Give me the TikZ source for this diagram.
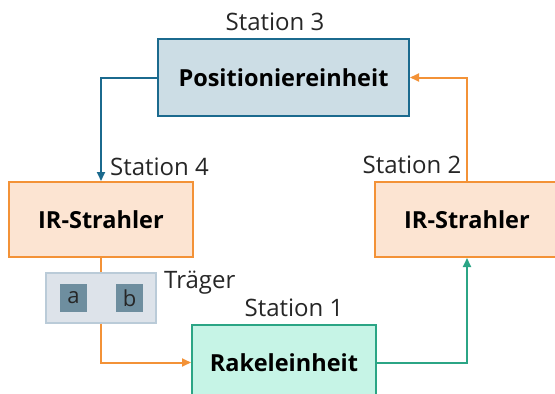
\documentclass[tikz,border=0pt]{standalone}
\usepackage{fontspec}
\setmainfont{Open Sans}
\usetikzlibrary{arrows.meta}
\definecolor{bluel}{HTML}{1B6A8E}
\definecolor{orl}{HTML}{F39237}
\definecolor{grl}{HTML}{2BA585}
\definecolor{posfill}{HTML}{CCDDE5}
\definecolor{irfill}{HTML}{FCE4D2}
\definecolor{rakfill}{HTML}{C6F4E6}
\definecolor{trfill}{HTML}{DDE3EA}
\definecolor{trline}{HTML}{BACBD8}
\definecolor{sqfill}{HTML}{6E8E9F}
\begin{document}
\begin{tikzpicture}[x=1pt,y=-1pt,
  box/.style={draw, line width=2pt, minimum width=184pt, minimum height=75pt, inner sep=0pt,
    font=\fontsize{23.5}{28}\selectfont\bfseries},
  lbl/.style={font=\fontsize{24}{28}\selectfont, inner sep=0pt, text=black!85},
  conn/.style={line width=2pt},
  tip/.style={-{Triangle[length=9pt,width=8pt]}},
  sq/.style={fill=sqfill, minimum width=27pt, minimum height=28pt, inner sep=0pt,
    font=\fontsize{22}{26}\selectfont, text=black!85}]
\useasboundingbox (0,0) rectangle (555,394);
\clip (0,0) rectangle (555,394);
\node[box, draw=bluel, fill=posfill, minimum width=251pt, minimum height=77pt] (pos) at (283.5,77.5) {Positioniereinheit};
\node[box, draw=orl, fill=irfill] (irl) at (101,219.5) {IR-Strahler};
\node[box, draw=orl, fill=irfill] (irr) at (467,219.5) {IR-Strahler};
\node[box, draw=grl, fill=rakfill] (rak) at (284,362.5) {Rakeleinheit};
\node[draw=trline, fill=trfill, line width=1.8pt, minimum width=110pt, minimum height=50pt, inner sep=0pt] (tr) at (101,298) {};
\node[sq] (a) at (73.5,298) {a};
\node[sq] (b) at (129.5,298) {b};
\node[lbl] (s3) at (275,22) {Station 3};
\node[lbl, anchor=west] (s4) at (110,167) {Station 4};
\node[lbl] (s2) at (412,165) {Station 2};
\node[lbl] (s1) at (294,308) {Station 1};
\node[lbl, anchor=west] (tl) at (164,283) {Träger};
\draw[conn, bluel, tip] (pos.west) -| (irl.north);
\draw[conn, orl, tip] (irr.north) |- (pos.east);
\draw[conn, orl] (irl.south) -- (tr.north);
\draw[conn, orl, tip] (tr.south) |- (rak.west);
\draw[conn, grl, tip] (rak.east) -| (irr.south);
\end{tikzpicture}
\end{document}
